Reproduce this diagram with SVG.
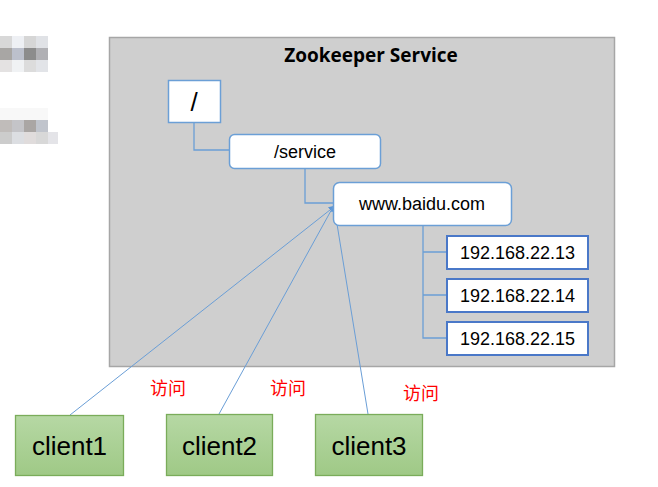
<svg xmlns="http://www.w3.org/2000/svg" width="658" height="487" viewBox="0 0 658 487">
<style>
.sans{font-family:"Liberation Sans",Arial,sans-serif;fill:#000}
.node{fill:#fff;stroke:#6b9fd6;stroke-width:1.5}
.ip{fill:#fff;stroke:#4a78c8;stroke-width:2}
.client{fill:url(#g);stroke:#7aac5a;stroke-width:1.3}
.conn{fill:none;stroke:#6b9fd6;stroke-width:1.3}
.acc{fill:none;stroke:#6a9ed6;stroke-width:1}
.lbl{font-family:"Noto Sans CJK SC",sans-serif;font-size:18px;fill:#f00}
</style>
<defs>
<linearGradient id="g" x1="0" y1="0" x2="0" y2="1">
<stop offset="0" stop-color="#b6d8a4"/>
<stop offset="1" stop-color="#9fc986"/>
</linearGradient>
<marker id="ah" viewBox="0 0 10 10" refX="9" refY="5" markerWidth="7" markerHeight="7" markerUnits="userSpaceOnUse" orient="auto">
<path d="M0,0L10,5L0,10z" fill="#5b95d6"/>
</marker>
</defs>
<rect width="658" height="487" fill="#fff"/>
<g id="mosaic">
<rect x="0" y="36" width="12" height="12" fill="#d8d8d8"/><rect x="12" y="36" width="12" height="12" fill="#eef0f4"/><rect x="24" y="36" width="12" height="12" fill="#d6d6d6"/><rect x="36" y="36" width="12" height="12" fill="#e0e2e6"/>
<rect x="0" y="48" width="12" height="12" fill="#a8a6a4"/><rect x="12" y="48" width="12" height="12" fill="#bcc0cc"/><rect x="24" y="48" width="12" height="12" fill="#8c8c8c"/><rect x="36" y="48" width="12" height="12" fill="#b0b0b4"/>
<rect x="0" y="60" width="12" height="12" fill="#e4e2e2"/><rect x="12" y="60" width="12" height="12" fill="#f0f2f4"/><rect x="24" y="60" width="12" height="12" fill="#dcdcdc"/><rect x="36" y="60" width="12" height="12" fill="#e2e4e8"/>
<rect x="0" y="108" width="48" height="12" fill="#f8f8f8"/>
<rect x="0" y="120" width="12" height="12" fill="#c0bcba"/><rect x="12" y="120" width="12" height="12" fill="#c4c4c8"/><rect x="24" y="120" width="12" height="12" fill="#aaa6a4"/><rect x="36" y="120" width="12" height="12" fill="#c0c4cc"/>
<rect x="0" y="132" width="12" height="12" fill="#cccccc"/><rect x="12" y="132" width="12" height="12" fill="#dcdee2"/><rect x="24" y="132" width="12" height="12" fill="#e0dcdc"/><rect x="36" y="132" width="12" height="12" fill="#d8d8d8"/><rect x="48" y="132" width="10" height="12" fill="#e4e4e8"/>
</g>
<g id="service">
<rect x="109.5" y="37.5" width="505" height="329" fill="#cfcfcf" stroke="#a6a6a6" stroke-width="1.5"/>
<text x="371" y="62" text-anchor="middle" style="font-family:'Open Sans','Noto Sans',sans-serif;font-weight:bold;font-size:19px;fill:#000">Zookeeper Service</text>
</g>
<g id="connectors">
<path class="conn" d="M194,122V150H229"/>
<path class="conn" d="M305,168V203H333"/>
<path class="conn" d="M423,226V338H447M423,252H447M423,295H447"/>
<path class="acc" d="M70,415L335,206" marker-end="url(#ah)"/>
<path class="acc" d="M219,414L333,207"/>
<path class="acc" d="M368,414L337,224"/>
</g>
<g id="root">
<rect class="node" x="168.5" y="80.5" width="52" height="42"/>
<text class="sans" x="194" y="111" text-anchor="middle" font-size="26">/</text>
</g>
<g id="svc">
<rect class="node" x="229.5" y="134.5" width="151" height="34" rx="5"/>
<text class="sans" x="305" y="158" text-anchor="middle" font-size="18">/service</text>
</g>
<g id="www">
<rect class="node" x="333.5" y="182.5" width="178" height="43" rx="6"/>
<text class="sans" x="422" y="210" text-anchor="middle" font-size="18">www.baidu.com</text>
</g>
<g id="ip1">
<rect class="ip" x="447" y="236" width="141" height="33"/>
<text class="sans" x="517.5" y="259" text-anchor="middle" font-size="18">192.168.22.13</text>
</g>
<g id="ip2">
<rect class="ip" x="447" y="279" width="141" height="33"/>
<text class="sans" x="517.5" y="302" text-anchor="middle" font-size="18">192.168.22.14</text>
</g>
<g id="ip3">
<rect class="ip" x="447" y="322" width="141" height="33"/>
<text class="sans" x="517.5" y="345" text-anchor="middle" font-size="18">192.168.22.15</text>
</g>
<g id="client1">
<rect class="client" x="15.5" y="415.5" width="108" height="60"/>
<text class="sans" x="69.5" y="455" text-anchor="middle" font-size="26">client1</text>
</g>
<g id="client2">
<rect class="client" x="166.5" y="414.5" width="106" height="61"/>
<text class="sans" x="219.5" y="455" text-anchor="middle" font-size="26">client2</text>
</g>
<g id="client3">
<rect class="client" x="315.5" y="414.5" width="107" height="61"/>
<text class="sans" x="369" y="455" text-anchor="middle" font-size="26">client3</text>
</g>
<g id="labels">
<text class="lbl" x="150" y="395">访问</text>
<text class="lbl" x="270" y="395">访问</text>
<text class="lbl" x="403" y="400">访问</text>
</g>
</svg>
